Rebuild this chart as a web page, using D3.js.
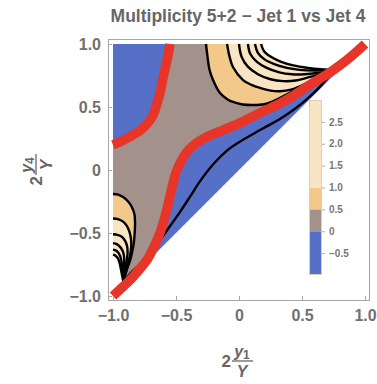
<!DOCTYPE html>
<html>
<head>
<meta charset="utf-8">
<script src="https://cdn.jsdelivr.net/npm/d3@7"></script>
<style>
  html, body { margin: 0; padding: 0; background: #fff; }
  svg { display: block; font-family: "Liberation Sans", Arial, sans-serif; }
</style>
</head>
<body>
<div id="chart"></div>
<script>
const title = 'Multiplicity 5+2 \u2212 Jet 1 vs Jet 4';
const xTicks = [-1, -0.5, 0, 0.5, 1];
const yTicks = [-1, -0.5, 0, 0.5, 1];
const barTicks = [-0.5, 0, 0.5, 1, 1.5, 2, 2.5];
const bandEdges = [-1, 0, 0.5, 1, 3];
const bandColors = ['#5670c8', '#a3928b', '#f2c98a', '#f9e4c3'];

// contour lines, in (2y1/Y, 2y4/Y)
const triangle = [[-1, -1], [-1, 1], [1, 1]];
const convTR = [0.76, 0.795];
const convLL = [-0.915, -0.9];

const zeroUpper = [[-1, 0.2], [-0.93, 0.23], [-0.865, 0.265], [-0.79, 0.31], [-0.73, 0.365],
  [-0.68, 0.44], [-0.65, 0.53], [-0.625, 0.62], [-0.605, 0.72], [-0.585, 0.81], [-0.565, 0.9], [-0.548, 1.0]];
const zeroLower = [[-1, -1], [-0.93, -0.935], [-0.865, -0.873], [-0.8, -0.8], [-0.73, -0.714],
  [-0.675, -0.61], [-0.627, -0.5], [-0.59, -0.38], [-0.56, -0.26], [-0.53, -0.13], [-0.5, -0.02],
  [-0.46, 0.07], [-0.4, 0.16], [-0.33, 0.22], [-0.23, 0.275], [-0.127, 0.317], [0, 0.37],
  [0.1, 0.42], [0.2, 0.47], [0.3, 0.516], [0.4, 0.57], [0.5, 0.635], [0.6, 0.7], [0.7, 0.76],
  [0.8, 0.83], [0.9, 0.91], [1, 1]];
const minusHalf = [convLL, [-0.87, -0.83], [-0.8, -0.76], [-0.73, -0.69], [-0.65, -0.59], [-0.57, -0.476],
  [-0.48, -0.35], [-0.39, -0.214], [-0.31, -0.09], [-0.21, 0.04], [-0.1, 0.15], [0, 0.22],
  [0.167, 0.317], [0.325, 0.405], [0.45, 0.49], [0.56, 0.58], [0.66, 0.68], convTR];

const tr05 = [[-0.262, 1], [-0.25, 0.9], [-0.235, 0.8], [-0.206, 0.714], [-0.151, 0.611], [-0.09, 0.56],
  [-0.048, 0.54], [0.03, 0.52], [0.111, 0.516], [0.2, 0.522], [0.27, 0.545], [0.38, 0.6], [0.5, 0.67],
  [0.62, 0.73], convTR];
const tr10 = [[-0.095, 1], [-0.075, 0.9], [-0.048, 0.817], [0.032, 0.714], [0.1, 0.675], [0.167, 0.651],
  [0.25, 0.63], [0.325, 0.625], [0.42, 0.64], [0.52, 0.68], [0.62, 0.735], convTR];
const tr15 = [[0, 1], [0.02, 0.9], [0.07, 0.82], [0.15, 0.76], [0.25, 0.72], [0.35, 0.705],
  [0.45, 0.71], [0.55, 0.735], [0.65, 0.76], convTR];
const tr20 = [[0.071, 1], [0.09, 0.92], [0.14, 0.86], [0.22, 0.81], [0.32, 0.775], [0.42, 0.76],
  [0.52, 0.76], [0.62, 0.77], convTR];
const tr25 = [[0.127, 1], [0.15, 0.93], [0.2, 0.88], [0.28, 0.84], [0.38, 0.81], [0.48, 0.795],
  [0.6, 0.79], convTR];
const tr30 = [[0.175, 1], [0.2, 0.94], [0.25, 0.9], [0.33, 0.86], [0.43, 0.83], [0.55, 0.81],
  [0.65, 0.8], convTR];

const ll05 = [[-1, -0.19], [-0.96, -0.195], [-0.92, -0.215], [-0.88, -0.25], [-0.85, -0.295], [-0.83, -0.35],
  [-0.825, -0.42], [-0.828, -0.5], [-0.835, -0.58], [-0.85, -0.66], [-0.865, -0.72], [-0.89, -0.79],
  [-0.905, -0.845], convLL];
const ll10 = [[-1, -0.385], [-0.96, -0.39], [-0.92, -0.41], [-0.893, -0.44], [-0.873, -0.48], [-0.86, -0.53],
  [-0.855, -0.58], [-0.86, -0.65], [-0.875, -0.72], [-0.893, -0.79], [-0.906, -0.845], convLL];
const ll15 = [[-1, -0.51], [-0.965, -0.515], [-0.93, -0.53], [-0.905, -0.56], [-0.889, -0.6],
  [-0.884, -0.65], [-0.89, -0.71], [-0.905, -0.79], convLL];
const ll20 = [[-1, -0.58], [-0.97, -0.588], [-0.944, -0.61], [-0.922, -0.645], [-0.912, -0.69],
  [-0.912, -0.76], convLL];
const ll25 = [[-1, -0.632], [-0.975, -0.64], [-0.955, -0.66], [-0.938, -0.7], [-0.928, -0.76], convLL];
const ll30 = [[-1, -0.672], [-0.98, -0.68], [-0.962, -0.7], [-0.948, -0.735], [-0.935, -0.8], convLL];

const W = 377, H = 384;
const svg = d3.select('#chart').append('svg').attr('width', W).attr('height', H);

const x = d3.scaleLinear().domain([-1, 1]).range([113, 365]);
const y = d3.scaleLinear().domain([-1, 1]).range([296, 44]);
const frame = { x0: 108, x1: 369, y0: 39, y1: 300 };

const line = d3.line().x(d => x(d[0])).y(d => y(d[1])).curve(d3.curveCatmullRom.alpha(0.5));
const straight = d3.line().x(d => x(d[0])).y(d => y(d[1]));

// join curve pieces into one closed outline
function outline(...pieces) {
  return pieces.map((p, i) => i ? line(p).replace(/^M/, 'L') : line(p)).join('') + 'Z';
}
const rev = a => a.slice().reverse();

svg.append('defs').append('clipPath').attr('id', 'plotClip')
  .append('rect')
  .attr('x', frame.x0).attr('y', frame.y0)
  .attr('width', frame.x1 - frame.x0).attr('height', frame.y1 - frame.y0);

const plot = svg.append('g').attr('clip-path', 'url(#plotClip)');

// filled bands
const fills = [
  { d: straight(triangle) + 'Z', c: bandColors[0] },
  { d: outline(zeroLower, [[1, 1], zeroUpper[zeroUpper.length - 1]], rev(zeroUpper), [[-1, 0.2], [-1, -1]]), c: bandColors[1] },
  { d: outline(tr05, rev(tr10)), c: bandColors[2] },
  { d: outline(tr10, rev(tr30)), c: bandColors[3] },
  { d: outline(tr30, [convTR, [1, 1]]), c: '#fff' },
  { d: outline(ll05, rev(ll10)), c: bandColors[2] },
  { d: outline(ll10, rev(ll30)), c: bandColors[3] },
  { d: outline(ll30, [convLL, [-1, -0.97]]), c: '#fff' },
];
plot.selectAll('path.band').data(fills).join('path')
  .attr('class', 'band')
  .attr('d', d => d.d)
  .attr('fill', d => d.c);

// black contour lines
const blackLines = [minusHalf, tr05, tr10, tr15, tr20, tr25, tr30, ll05, ll10, ll15, ll20, ll25, ll30];
plot.selectAll('path.contour').data(blackLines).join('path')
  .attr('class', 'contour')
  .attr('d', line)
  .attr('fill', 'none')
  .attr('stroke', '#000')
  .attr('stroke-width', 2.4);

// zero level in red
plot.selectAll('path.zero').data([zeroUpper, zeroLower]).join('path')
  .attr('class', 'zero')
  .attr('d', line)
  .attr('fill', 'none')
  .attr('stroke', '#e8352a')
  .attr('stroke-width', 9.5);

// frame
svg.append('rect')
  .attr('x', frame.x0 + 0.5).attr('y', frame.y0 + 0.5)
  .attr('width', frame.x1 - frame.x0).attr('height', frame.y1 - frame.y0)
  .attr('fill', 'none').attr('stroke', '#a6a6a6');

const fmt = d => d === 0 ? '0' : d3.format('.1f')(d);

const xAxis = svg.append('g').attr('transform', `translate(0,${frame.y1})`)
  .call(d3.axisBottom(x).tickValues(xTicks).tickFormat(fmt).tickSizeInner(-4).tickSizeOuter(0).tickPadding(10));
const yAxis = svg.append('g').attr('transform', `translate(${frame.x0},0)`)
  .call(d3.axisLeft(y).tickValues(yTicks).tickFormat(fmt).tickSizeInner(-4).tickSizeOuter(0).tickPadding(7));
[xAxis, yAxis].forEach(a => {
  a.select('.domain').remove();
  a.selectAll('line').attr('stroke', '#a6a6a6');
  a.selectAll('text').attr('fill', '#707070').attr('font-size', 16).attr('font-weight', 'bold')
    .attr('font-family', '"Liberation Sans", Arial, sans-serif');
});

// title
svg.append('text')
  .attr('x', 238).attr('y', 22)
  .attr('text-anchor', 'middle')
  .attr('fill', '#666').attr('font-size', 17.5).attr('font-weight', 'bold')
  .text(title);

// axis labels: 2 y_i / Y
function fracLabel(g, sub) {
  g.append('text').attr('x', -11).attr('y', 6).attr('text-anchor', 'end')
    .attr('fill', '#666').attr('font-size', 17).attr('font-weight', 'bold').text('2');
  const num = g.append('text').attr('x', 0).attr('y', -4).attr('text-anchor', 'middle')
    .attr('fill', '#666').attr('font-size', 16).attr('font-weight', 'bold').attr('font-style', 'italic');
  num.append('tspan').text('y');
  num.append('tspan').attr('font-size', 12).attr('font-style', 'normal').attr('dy', 2).text(sub);
  g.append('line').attr('x1', -10).attr('x2', 11).attr('y1', 0).attr('y2', 0)
    .attr('stroke', '#666').attr('stroke-width', 1.3);
  g.append('text').attr('x', 0).attr('y', 16).attr('text-anchor', 'middle')
    .attr('fill', '#666').attr('font-size', 16).attr('font-weight', 'bold').attr('font-style', 'italic').text('Y');
}
fracLabel(svg.append('g').attr('transform', 'translate(242,361)'), '1');
fracLabel(svg.append('g').attr('transform', 'translate(36,165) rotate(-90)'), '4');

// colour bar legend
const cb = d3.scaleLinear().domain([-1, 3]).range([275, 100]);
const bar = svg.append('g');
bar.selectAll('rect').data(d3.pairs(bandEdges)).join('rect')
  .attr('x', 309).attr('width', 13)
  .attr('y', d => cb(d[1])).attr('height', d => cb(d[0]) - cb(d[1]))
  .attr('fill', (d, i) => bandColors[i]);
bar.append('rect').attr('x', 309.5).attr('y', cb(3) + 0.5).attr('width', 12).attr('height', cb(-1) - cb(3) - 1)
  .attr('fill', 'none').attr('stroke', '#e0cfae').attr('stroke-width', 1);
const barAxis = svg.append('g').attr('transform', 'translate(322,0)')
  .call(d3.axisRight(cb).tickValues(barTicks).tickFormat(fmt).tickSizeInner(3).tickSizeOuter(0).tickPadding(4));
barAxis.select('.domain').remove();
barAxis.selectAll('line').attr('stroke', '#aaa');
barAxis.selectAll('text').attr('fill', '#777').attr('font-size', 10).attr('font-weight', 'bold')
  .attr('font-family', '"Liberation Sans", Arial, sans-serif');
</script>
</body>
</html>
